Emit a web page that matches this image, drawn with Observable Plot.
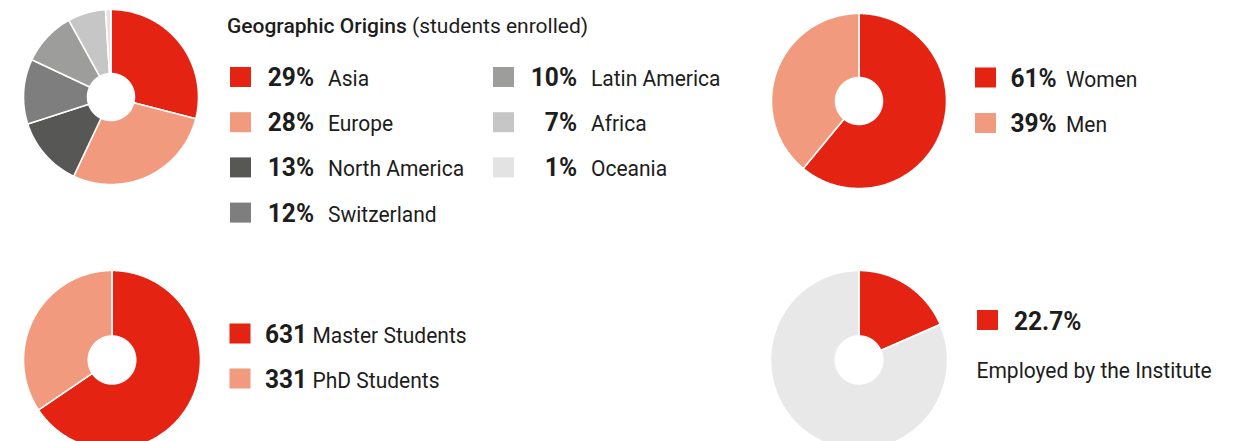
<!DOCTYPE html>
<html>
<head>
<meta charset="utf-8">
<script src="https://cdn.jsdelivr.net/npm/d3@7"></script>
<script src="https://cdn.jsdelivr.net/npm/@observablehq/plot@0.6"></script>
<style>
  html, body { margin: 0; padding: 0; background: #ffffff; overflow: hidden; }
  #page { position: relative; width: 1243px; height: 441px; overflow: hidden; background: #fff; }
  .pie { position: absolute; }
  .pie svg { display: block; }
  #overlay { position: absolute; left: 0; top: 0; }
  #overlay text { font-family: Roboto, "Noto Sans", sans-serif; fill: #1d1d1b; }
</style>
</head>
<body>
<div id="page"></div>
<script>
// ---------- data ----------
const geoRegions = ["Asia", "Europe", "North America", "Switzerland", "Latin America", "Africa", "Oceania"];
const geoShares  = [29, 28, 13, 12, 10, 7, 1];
const geoColors  = ["#e42313", "#f19a7d", "#575756", "#7e7e7e", "#9d9d9c", "#c6c6c6", "#e3e3e3"];
const geoTitle = "Geographic Origins";
const geoSubtitle = "(students enrolled)";

const genderLabels = ["Women", "Men"];
const genderShares = [61, 39];
const genderColors = ["#e42313", "#f19a7d"];

const levelLabels = ["Master Students", "PhD Students"];
const levelCounts = [631, 331];
const levelColors = ["#e42313", "#f19a7d"];

const employedLabels = ["Employed by the Institute", "Others"];
const employedValues = [22.7, 100];
const employedColors = ["#e42313", "#e8e8e8"];
const employedText = "22.7%";

// ---------- donut drawn with Plot ----------
const page = document.getElementById("page");

function donut(labels, values, colors, cx, cy, rx, ry) {
  const inner = 0.268;
  const m = 2;
  const arcs = d3.pie().sort(null).value(d => d)(values);
  const pts = [];
  arcs.forEach((a, i) => {
    const n = Math.max(3, Math.ceil((a.endAngle - a.startAngle) / 0.01));
    for (let k = 0; k <= n; k++) {
      const t = a.startAngle + (a.endAngle - a.startAngle) * k / n;
      pts.push({key: labels[i], x: Math.sin(t), y: Math.cos(t)});
    }
    for (let k = n; k >= 0; k--) {
      const t = a.startAngle + (a.endAngle - a.startAngle) * k / n;
      pts.push({key: labels[i], x: inner * Math.sin(t), y: inner * Math.cos(t)});
    }
  });
  const svg = Plot.plot({
    width: 2 * rx + 2 * m,
    height: 2 * ry + 2 * m,
    margin: m,
    x: {domain: [-1, 1], axis: null},
    y: {domain: [-1, 1], axis: null},
    color: {domain: labels, range: colors},
    style: {background: "transparent", overflow: "visible"},
    marks: [
      Plot.line(pts, {x: "x", y: "y", z: "key", fill: "key", stroke: "white", strokeWidth: 1.6, strokeLinejoin: "miter", curve: "linear-closed"})
    ]
  });
  const div = document.createElement("div");
  div.className = "pie";
  div.style.left = (cx - rx - m) + "px";
  div.style.top = (cy - ry - m) + "px";
  div.appendChild(svg);
  page.appendChild(div);
}

donut(geoRegions, geoShares, geoColors, 110.5, 96.5, 87.5, 87.5);
donut(genderLabels, genderShares, genderColors, 858, 100.5, 87.5, 87.5);
donut(levelLabels, levelCounts, levelColors, 111, 359, 88.5, 89.5);
donut(employedLabels, employedValues, employedColors, 858, 359, 88.5, 89.5);

// ---------- text / legend overlay ----------
const SX_TITLE = 1.0, SX_LAB = 0.955, SX_NUM = 0.98;
const NUM = "25px", LAB = "22px";
const ov = d3.select(page).append("svg")
  .attr("id", "overlay").attr("width", 1243).attr("height", 441);

function txt(x, y, sx, anchor) {
  return ov.append("text")
    .attr("transform", `translate(${x},${y}) scale(${sx},1)`)
    .attr("text-anchor", anchor || "start");
}

// title
const title = txt(227, 33, SX_TITLE).style("font-size", "21px");
title.append("tspan").attr("font-weight", "500").text(geoTitle);
title.append("tspan").text(" " + geoSubtitle);

// geographic legend: 4 rows in col 1, 3 rows in col 2
geoRegions.forEach((r, i) => {
  const col = i < 4 ? 0 : 1;
  const row = i < 4 ? i : i - 4;
  const sqX = col === 0 ? 230 : 493;
  const numRight = col === 0 ? 314 : 577;
  const labX = col === 0 ? 328 : 591;
  const top = 67 + row * 45.2;
  ov.append("rect").attr("x", sqX).attr("y", top).attr("width", 21).attr("height", 20).attr("fill", geoColors[i]);
  txt(numRight, top + 19, SX_NUM, "end").attr("font-weight", "bold").style("font-size", NUM).text(geoShares[i] + "%");
  txt(labX, top + 19, SX_LAB).style("font-size", LAB).text(r);
});

// gender legend
genderLabels.forEach((g, i) => {
  const top = 67.5 + i * 45.5;
  ov.append("rect").attr("x", 975).attr("y", top).attr("width", 21).attr("height", 20).attr("fill", genderColors[i]);
  txt(1010.5, top + 19, SX_NUM).attr("font-weight", "bold").style("font-size", NUM).text(genderShares[i] + "%");
  txt(1066, top + 19, SX_LAB).style("font-size", LAB).text(g);
});

// level legend
levelLabels.forEach((l, i) => {
  const top = 323.5 + i * 45;
  ov.append("rect").attr("x", 229.5).attr("y", top).attr("width", 21).attr("height", 20).attr("fill", levelColors[i]);
  txt(265, top + 19, SX_NUM).attr("font-weight", "bold").style("font-size", NUM).text(levelCounts[i]);
  txt(312.5, top + 19, SX_LAB).style("font-size", LAB).text(l);
});

// employed legend
ov.append("rect").attr("x", 977).attr("y", 310).attr("width", 21).attr("height", 20).attr("fill", employedColors[0]);
txt(1014, 329.5, SX_NUM).attr("font-weight", "bold").style("font-size", NUM).text(employedText);
txt(976.5, 377.5, SX_LAB).style("font-size", LAB).text(employedLabels[0]);
</script>
</body>
</html>
